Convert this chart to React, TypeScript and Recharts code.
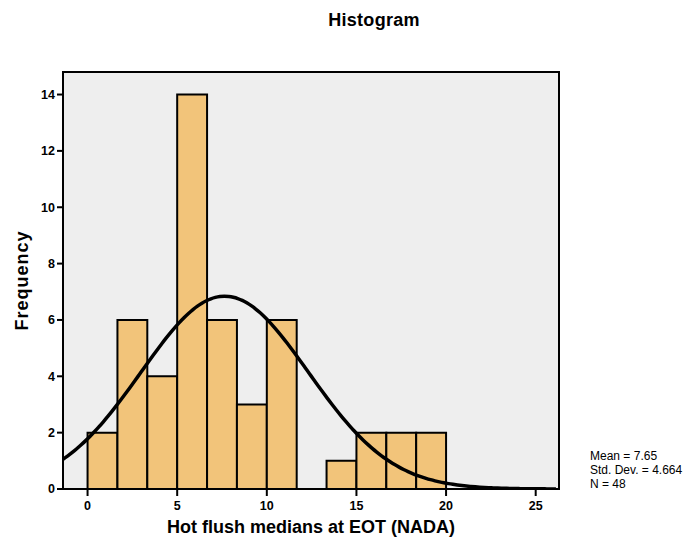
import {
    CartesianGrid,
    ComposedChart,
    Line,
    ReferenceArea,
    XAxis,
    YAxis
} from 'recharts'

// histogram bins (lower edge / upper edge) and their counts
const BIN_LOW = [0, 1.667, 3.333, 5, 6.667, 8.333, 10, 11.667, 13.333, 15, 16.667, 18.333]
const BIN_HIGH = [1.667, 3.333, 5, 6.667, 8.333, 10, 11.667, 13.333, 15, 16.667, 18.333, 20]
const COUNTS = [2, 6, 4, 14, 6, 3, 6, 0, 1, 2, 2, 2]

const X_TICKS = [0, 5, 10, 15, 20, 25]
const Y_TICKS = [0, 2, 4, 6, 8, 10, 12, 14]
const X_DOMAIN: [number, number] = [-1.37, 26.3]
const Y_DOMAIN: [number, number] = [0, 14.8]

const MEAN = 7.65
const STD_DEV = 4.664
const N = 48
const BIN_WIDTH = 5 / 3

const BAR_FILL = '#F2C47A'
const PLOT_BG = '#eeeeee'
const FONT = '"Liberation Sans", Arial, sans-serif'

// fitted normal curve, scaled to counts per bin
function normalCurve() {
    const pts: { x: number; y: number }[] = []
    const scale = (N * BIN_WIDTH) / (STD_DEV * Math.sqrt(2 * Math.PI))
    for (let x = X_DOMAIN[0]; x <= X_DOMAIN[1]; x += 0.25) {
        const z = (x - MEAN) / STD_DEV
        pts.push({ x, y: scale * Math.exp(-0.5 * z * z) })
    }
    return pts
}

const curve = normalCurve()

const tickStyle = { fill: '#000', fontSize: 12.5, fontWeight: 'bold', fontFamily: FONT }
const axisLine = { stroke: '#000', strokeWidth: 2 }

export default function App() {
    return (
        <div style={{ position: 'absolute', left: 0, top: 0, width: 692, height: 545, background: '#fff', fontFamily: FONT }}>
            <div
                style={{
                    position: 'absolute',
                    left: 0,
                    width: 748,
                    top: 10,
                    textAlign: 'center',
                    fontSize: 18,
                    fontWeight: 'bold',
                    letterSpacing: 0.3
                }}
            >
                Histogram
            </div>
            <ComposedChart
                width={692}
                height={545}
                data={curve}
                margin={{ top: 72, right: 133, bottom: 26, left: 0 }}
            >
                <CartesianGrid fill={PLOT_BG} horizontal={false} vertical={false} />
                <XAxis
                    dataKey="x"
                    type="number"
                    domain={X_DOMAIN}
                    ticks={X_TICKS}
                    allowDataOverflow
                    height={30}
                    tick={tickStyle}
                    tickSize={7}
                    tickMargin={5}
                    tickLine={axisLine}
                    axisLine={axisLine}
                    label={{
                        value: 'Hot flush medians at EOT (NADA)',
                        position: 'insideBottom',
                        offset: -14,
                        style: { fill: '#000', fontSize: 18, fontWeight: 'bold', fontFamily: FONT }
                    }}
                />
                <YAxis
                    type="number"
                    domain={Y_DOMAIN}
                    ticks={Y_TICKS}
                    allowDataOverflow
                    width={63}
                    tick={tickStyle}
                    tickSize={6}
                    tickLine={axisLine}
                    axisLine={axisLine}
                    label={{
                        value: 'Frequency',
                        angle: -90,
                        position: 'insideLeft',
                        offset: 22,
                        style: {
                            fill: '#000',
                            fontSize: 18,
                            fontWeight: 'bold',
                            fontFamily: FONT,
                            textAnchor: 'middle',
                            letterSpacing: 1
                        }
                    }}
                />
                {COUNTS.map((count, i) =>
                    count > 0 ? (
                        <ReferenceArea
                            key={i}
                            x1={BIN_LOW[i]}
                            x2={BIN_HIGH[i]}
                            y1={0}
                            y2={count}
                            fill={BAR_FILL}
                            fillOpacity={1}
                            stroke="#000"
                            strokeWidth={2}
                        />
                    ) : null
                )}
                {/* frame around the plot area */}
                <ReferenceArea
                    x1={X_DOMAIN[0]}
                    x2={X_DOMAIN[1]}
                    y1={Y_DOMAIN[0]}
                    y2={Y_DOMAIN[1]}
                    fill="none"
                    stroke="#000"
                    strokeWidth={2}
                />
                <Line
                    dataKey="y"
                    type="monotone"
                    stroke="#000"
                    strokeWidth={3.5}
                    dot={false}
                    activeDot={false}
                    isAnimationActive={false}
                />
            </ComposedChart>
            <div style={{ position: 'absolute', left: 590, top: 449, fontSize: 12, lineHeight: '14px', color: '#000' }}>
                <div>Mean = {MEAN}</div>
                <div>Std. Dev. = {STD_DEV}</div>
                <div>N = {N}</div>
            </div>
        </div>
    )
}
